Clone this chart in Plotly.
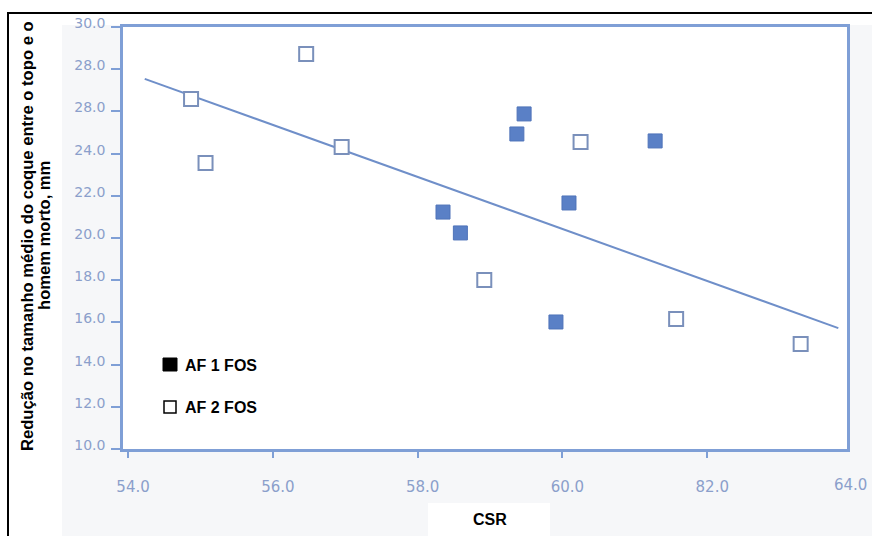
import plotly.graph_objects as go

# ---- data ----
af1_csr = [58.35, 58.59, 59.37, 59.47, 60.09, 61.28, 59.91]
af1_red = [21.23, 20.24, 24.93, 25.88, 21.66, 24.60, 16.02]

af2_csr = [54.87, 55.07, 56.46, 56.95, 58.92, 60.25, 61.57, 63.29]
af2_red = [26.59, 23.55, 28.72, 24.31, 18.01, 24.55, 16.16, 14.98]

fit_csr = [54.23, 63.81]
fit_red = [27.54, 15.73]

x_tick_vals = [54, 56, 58, 60, 62, 64]
x_tick_text = ["54.0", "56.0", "58.0", "60.0", "82.0", "64.0"]
y_tick_vals = [10, 12, 14, 16, 18, 20, 22, 24, 26, 28, 30]
y_tick_text = ["10.0", "12.0", "14.0", "16.0", "18.0", "20.0", "22.0", "24.0", "28.0", "28.0", "30.0"]

legend_labels = ["AF 1 FOS", "AF 2 FOS"]
x_title = "CSR"
y_title_lines = ["Redução no tamanho médio do coque entre o topo e o", "homem morto, mm"]

X_RANGE = [53.93, 63.93]
Y_RANGE = [10, 30]

AXIS_COL = "#7f9fd6"
TICK_COL = "#8b9fcb"

# plot area in pixels
L, R, T, B = 123, 847, 27, 449
W, H = 872, 536
PW, PH = R - L, B - T


def px_x(p):
    return (p - L) / PW


def px_y(p):
    return (B - p) / PH


fig = go.Figure()

fig.add_trace(go.Scatter(
    x=fit_csr, y=fit_red, mode="lines",
    line=dict(color="#6f8fc9", width=2), showlegend=False, hoverinfo="skip"))

fig.add_trace(go.Scatter(
    x=af2_csr, y=af2_red, mode="markers", name=legend_labels[1],
    marker=dict(symbol="square", size=14, color="white",
                line=dict(color="#7a90bb", width=2)),
    showlegend=False))

fig.add_trace(go.Scatter(
    x=af1_csr, y=af1_red, mode="markers", name=legend_labels[0],
    marker=dict(symbol="square", size=14, color="#5a80c6",
                line=dict(color="#4f73b9", width=1)),
    showlegend=False))

shapes = [
    # light scanned background patches kept white
    dict(type="rect", xref="paper", yref="paper", x0=px_x(-5), x1=px_x(62), y0=px_y(545), y1=px_y(-5),
         fillcolor="white", line=dict(width=0), layer="below"),
    dict(type="rect", xref="paper", yref="paper", x0=px_x(-5), x1=px_x(880), y0=px_y(25), y1=px_y(-5),
         fillcolor="white", line=dict(width=0), layer="below"),
    dict(type="rect", xref="paper", yref="paper", x0=px_x(428), x1=px_x(550), y0=px_y(545), y1=px_y(503),
         fillcolor="white", line=dict(width=0), layer="below"),
    # black frame of the figure
    dict(type="rect", xref="paper", yref="paper", x0=px_x(8), x1=px_x(885), y0=px_y(560), y1=px_y(13),
         fillcolor="rgba(0,0,0,0)", line=dict(color="black", width=2)),
    # legend box
    dict(type="rect", xref="paper", yref="paper", x0=px_x(153), x1=px_x(267), y0=px_y(423), y1=px_y(332),
         fillcolor="white", line=dict(width=0), layer="below"),
    # legend symbols
    dict(type="rect", xref="paper", yref="paper", x0=px_x(163), x1=px_x(177), y0=px_y(371), y1=px_y(358),
         fillcolor="black", line=dict(color="black", width=1)),
    dict(type="rect", xref="paper", yref="paper", x0=px_x(164), x1=px_x(176), y0=px_y(413), y1=px_y(401),
         fillcolor="white", line=dict(color="black", width=1.5)),
]

title_font = dict(family="Liberation Sans, Arial, sans-serif", size=16, color="black")
ytitle_font = dict(family="Liberation Sans, Arial, sans-serif", size=16.6, color="black")

annotations = [
    dict(text="<b>%s</b>" % y_title_lines[0], xref="paper", yref="paper", x=px_x(28), y=px_y(236),
         textangle=-90, showarrow=False, font=ytitle_font, xanchor="center", yanchor="middle"),
    dict(text="<b>%s</b>" % y_title_lines[1], xref="paper", yref="paper", x=px_x(45), y=px_y(236),
         textangle=-90, showarrow=False, font=ytitle_font, xanchor="center", yanchor="middle"),
    dict(text="<b>%s</b>" % x_title, xref="paper", yref="paper", x=px_x(490), y=px_y(519),
         showarrow=False, font=title_font, xanchor="center", yanchor="middle"),
    dict(text="<b>%s</b>" % legend_labels[0], xref="paper", yref="paper", x=px_x(183), y=px_y(365),
         showarrow=False, font=title_font, xanchor="left", yanchor="middle"),
    dict(text="<b>%s</b>" % legend_labels[1], xref="paper", yref="paper", x=px_x(183), y=px_y(407),
         showarrow=False, font=title_font, xanchor="left", yanchor="middle"),
]

# last x tick label lies just past the right end of the axis range
for v, t in zip(x_tick_vals, x_tick_text):
    if v > X_RANGE[1]:
        annotations.append(dict(
            text=t, xref="paper", yref="paper",
            x=(v - X_RANGE[0]) / (X_RANGE[1] - X_RANGE[0]) - 2 / PW, y=px_y(485),
            showarrow=False, xanchor="center", yanchor="middle",
            font=dict(family="DejaVu Sans, sans-serif", size=15, color=TICK_COL)))

fig.update_layout(
    width=W, height=H,
    margin=dict(l=L, r=W - R, t=T, b=H - B, pad=0),
    paper_bgcolor="#f6f7f9",
    plot_bgcolor="white",
    shapes=shapes,
    annotations=annotations,
    showlegend=False,
)

fig.update_xaxes(
    range=X_RANGE, tickvals=x_tick_vals, ticktext=x_tick_text,
    showgrid=False, zeroline=False,
    showline=True, linecolor=AXIS_COL, linewidth=2.5, mirror=True,
    ticks="outside", ticklen=6, tickwidth=1.5, tickcolor=AXIS_COL,
    tickfont=dict(family="DejaVu Sans, sans-serif", size=15, color=TICK_COL),
    ticklabelstandoff=16, ticklabelshift=5,
)
fig.update_yaxes(
    range=Y_RANGE, tickvals=y_tick_vals, ticktext=y_tick_text,
    showgrid=False, zeroline=False,
    showline=True, linecolor=AXIS_COL, linewidth=2.5, mirror=True,
    ticks="outside", ticklen=9, tickwidth=1.5, tickcolor=AXIS_COL,
    tickfont=dict(family="DejaVu Sans, sans-serif", size=14, color=TICK_COL),
    ticklabelstandoff=3, ticklabelshift=-4,
)

fig.write_html(
    "out.html",
    config={"displayModeBar": False},
    post_script="document.body.style.margin='0';document.body.style.overflow='hidden';",
)
